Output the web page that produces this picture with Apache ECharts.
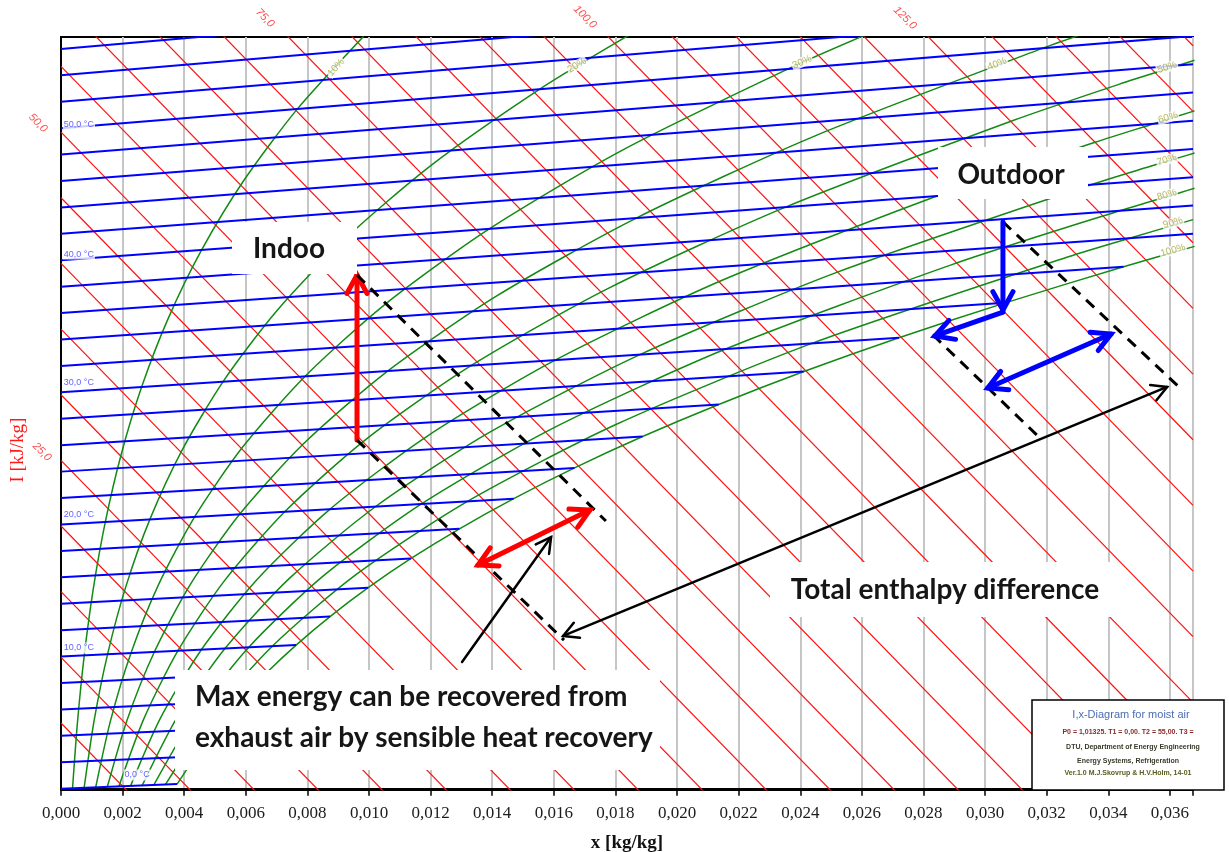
<!DOCTYPE html>
<html>
<head>
<meta charset="utf-8">
<script src="https://cdn.jsdelivr.net/npm/echarts/dist/echarts.min.js"></script>
<style>
  html, body { margin: 0; padding: 0; background: #ffffff; }
  #chart { width: 1229px; height: 852px; }
</style>
</head>
<body>
<div id="chart"></div>
<script>
// ---------------------------------------------------------------------------
// i,x (Mollier) diagram for moist air.
// Abscissa: humidity ratio x [kg/kg].  Ordinate: skewed enthalpy scale,
// expressed so that the value at x = 0 equals the air temperature in °C.
// ---------------------------------------------------------------------------
const X_MAX = 0.03675;
const Y_MIN = -0.1;
const Y_MAX = 56.9;

// Isotherms every 2 °C: start at (0, t), end on the saturation line or the frame
const isothermTemps = [0, 2, 4, 6, 8, 10, 12, 14, 16, 18, 20, 22, 24, 26, 28,
  30, 32, 34, 36, 38, 40, 42, 44, 46, 48, 50, 52, 54, 56];
const isothermEnds = [
  [0.003774, 0.359], [0.004364, 2.431], [0.005031, 4.516], [0.005793, 6.616],
  [0.006657, 8.734], [0.007631, 10.870], [0.008733, 13.029], [0.009973, 15.213],
  [0.011364, 17.425], [0.012934, 19.671], [0.014698, 21.955], [0.016672, 24.281],
  [0.018880, 26.655], [0.021353, 29.083], [0.024116, 31.574], [0.027205, 34.135],
  [0.030654, 36.776], [0.034495, 39.505],
  [0.03675, 42.005], [0.03675, 44.145], [0.03675, 46.284], [0.03675, 48.424],
  [0.03675, 50.564], [0.03675, 52.703], [0.03675, 54.843], [0.03675, 56.983],
  [0.03675, 59.12], [0.03675, 61.262], [0.03675, 63.401]
];

// Isenthalps every 5 kJ/kg: ordinate at x = 0 and common drop across the width
const isenthalpValues = [5, 10, 15, 20, 25, 30, 35, 40, 45, 50, 55, 60, 65, 70, 75,
  80, 85, 90, 95, 100, 105, 110, 115, 120, 125, 130, 135, 140, 145];
const isenthalpAtLeft = [4.970, 9.940, 14.911, 19.881, 24.851, 29.821, 34.791,
  39.761, 44.732, 49.702, 54.672, 59.642, 64.612, 69.583, 74.553, 79.523, 84.493,
  89.463, 94.433, 99.404, 104.374, 109.344, 114.314, 119.284, 124.254, 129.225,
  134.195, 139.165, 144.135];
const isenthalpDrop = 87.9;

// Relative humidity curves [x, ordinate]
const rh10 = [[0.000375, 0.036], [0.000536, 5.056], [0.000755, 10.086], [0.001048, 15.129],
  [0.001439, 20.191], [0.001951, 25.278], [0.002617, 30.398], [0.003474, 35.561],
  [0.004566, 40.781], [0.005945, 46.073], [0.007675, 51.458], [0.009827, 56.961]];
const rh20 = [[0.000751, 0.071], [0.001072, 5.112], [0.001511, 10.172], [0.002100, 15.259],
  [0.002885, 20.384], [0.003915, 25.558], [0.005257, 30.799], [0.006987, 36.128],
  [0.009200, 41.573], [0.012005, 47.167], [0.015542, 52.953], [0.018067, 56.536],
  [0.018991, 57.753]];
const rh30 = [[0.001127, 0.107], [0.001610, 5.168], [0.002270, 10.259], [0.003156, 15.390],
  [0.004338, 20.577], [0.005891, 25.839], [0.007919, 31.204], [0.010540, 36.702],
  [0.013902, 42.377], [0.018183, 48.282], [0.023607, 54.485], [0.026116, 57.061]];
const rh40 = [[0.001504, 0.143], [0.002149, 5.225], [0.003030, 10.345], [0.004215, 15.521],
  [0.005797, 20.771], [0.007880, 26.123], [0.010604, 31.612], [0.014133, 37.283],
  [0.018676, 43.194], [0.024483, 49.419], [0.031879, 56.057], [0.033566, 57.441]];
const rh50 = [[0.001881, 0.179], [0.002688, 5.281], [0.003792, 10.432], [0.005278, 15.652],
  [0.007263, 20.966], [0.009881, 26.408], [0.013311, 32.023], [0.017768, 37.870],
  [0.023521, 44.022], [0.030907, 50.579], [0.034365, 53.333], [0.036285, 54.756],
  [0.0368, 55.14]];
const rh60 = [[0.002259, 0.215], [0.003228, 5.337], [0.004556, 10.519], [0.006344, 15.783],
  [0.008736, 21.162], [0.011895, 26.695], [0.016042, 32.438], [0.021444, 38.463],
  [0.028440, 44.863], [0.033576, 48.933], [0.035476, 50.336], [0.0368, 51.31]];
const rh70 = [[0.002637, 0.251], [0.003770, 5.394], [0.005322, 10.607], [0.007414, 15.916],
  [0.010216, 21.359], [0.013922, 26.984], [0.018797, 32.857], [0.025162, 39.064],
  [0.033435, 45.717], [0.035369, 47.115], [0.036383, 47.825], [0.0368, 48.12]];
const rh80 = [[0.003015, 0.286], [0.004312, 5.451], [0.006090, 10.694], [0.008487, 16.048],
  [0.011703, 21.556], [0.015962, 27.275], [0.021575, 33.279], [0.028924, 39.671],
  [0.034369, 43.747], [0.036377, 45.151], [0.0368, 45.45]];
const rh90 = [[0.003394, 0.322], [0.004855, 5.507], [0.006859, 10.782], [0.009565, 16.181],
  [0.013197, 21.755], [0.018015, 27.567], [0.024378, 33.705], [0.032730, 40.286],
  [0.034688, 41.668], [0.036752, 43.075]];
const rh100 = [[0.003774, 0.359], [0.004364, 2.431], [0.005031, 4.516], [0.005793, 6.616],
  [0.006657, 8.734], [0.007631, 10.870], [0.008733, 13.029], [0.009973, 15.213],
  [0.011364, 17.425], [0.012934, 19.671], [0.014698, 21.955], [0.016672, 24.281],
  [0.018880, 26.655], [0.021353, 29.083], [0.024116, 31.574], [0.027205, 34.135],
  [0.030654, 36.776], [0.034495, 39.505], [0.0368, 41.05]];
const rhCurves = [rh10, rh20, rh30, rh40, rh50, rh60, rh70, rh80, rh90, rh100];

// Curve labels
const rhLabels = ['10%', '20%', '30%', '40%', '50%', '60%', '70%', '80%', '90%', '100%'];
const rhLabelPos = [[0.00893, 54.6], [0.01675, 54.75], [0.02406, 55.0], [0.03039, 54.85],
  [0.03591, 54.6], [0.03594, 50.8], [0.0359, 47.6], [0.0359, 44.95], [0.0361, 42.85],
  [0.0361, 40.75]];
const rhLabelAngle = [48, 31, 24, 21, 18, 17, 17, 16, 16, 16];

const isothermLabels = ['0,0 °C', '10,0 °C', '20,0 °C', '30,0 °C', '40,0 °C', '50,0 °C'];
const isothermLabelPos = [[0.00247, 1.04], [0.00058, 10.65], [0.00058, 20.72],
  [0.00058, 30.71], [0.00058, 40.47], [0.00058, 50.31]];

const isenthalpLabels = ['25,0', '50,0', '75,0', '100,0', '125,0'];
const isenthalpLabelPos = [[-0.00062, 25.49], [-0.00075, 50.39], [0.00662, 58.34],
  [0.01701, 58.41], [0.0274, 58.34]];

// States and process arrows
const indoorPoint = [0.00961, 26.39];
const indoorTop = [0.00961, 38.88];
const indoorDashEnd = [0.01769, 20.26];
const indoorLowDashEnd = [0.01633, 11.25];
const sensibleA = [0.01354, 16.93];
const sensibleB = [0.01717, 21.10];
const noteArrowFrom = [0.01302, 9.59];
const noteArrowTo = [0.01591, 19.05];
const totalA = [0.0163, 11.56];
const totalB = [0.03591, 30.41];
const outdoorPoint = [0.03058, 42.90];
const outdoorDashEnd = [0.03633, 30.33];
const outdoorLowDashStart = [0.02831, 34.34];
const outdoorLowDashEnd = [0.03185, 26.39];
const outdoorDropTip = [0.03058, 36.23];
const outdoorCornerStart = [0.03058, 36.08];
const outdoorCornerTip = [0.02837, 34.27];
const exchangeA = [0.03009, 30.33];
const exchangeB = [0.03409, 34.42];

const annotations = [
  { a: indoorPoint, b: indoorTop, kind: 'red', heads: [false, true] },
  { a: indoorTop, b: indoorDashEnd, kind: 'dash', heads: [false, false] },
  { a: indoorPoint, b: indoorLowDashEnd, kind: 'dash', heads: [false, false] },
  { a: sensibleA, b: sensibleB, kind: 'red', heads: [true, true] },
  { a: noteArrowFrom, b: noteArrowTo, kind: 'black', heads: [false, true] },
  { a: totalA, b: totalB, kind: 'black', heads: [true, true] },
  { a: outdoorPoint, b: outdoorDashEnd, kind: 'dash', heads: [false, false] },
  { a: outdoorLowDashStart, b: outdoorLowDashEnd, kind: 'dash', heads: [false, false] },
  { a: outdoorPoint, b: outdoorDropTip, kind: 'blue', heads: [false, true] },
  { a: outdoorCornerStart, b: outdoorCornerTip, kind: 'blue', heads: [false, true] },
  { a: exchangeA, b: exchangeB, kind: 'blue', heads: [true, true] }
];

const annotationStyle = {
  red:   { color: '#ff0000', width: 5,   head: 21, dash: null },
  blue:  { color: '#0000ff', width: 5,   head: 21, dash: null },
  black: { color: '#000000', width: 2.5, head: 17, dash: null },
  dash:  { color: '#000000', width: 3,   head: 0,  dash: [11, 8] }
};

// ---------------------------------------------------------------------------
const series = [];

isenthalpValues.forEach(function (h, i) {
  series.push({
    type: 'line', name: 'i=' + h, z: 2, silent: true, showSymbol: false,
    data: [[0, isenthalpAtLeft[i]], [X_MAX, isenthalpAtLeft[i] - isenthalpDrop]],
    lineStyle: { color: '#ff1010', width: 1.2 }
  });
});

rhCurves.forEach(function (c, i) {
  series.push({
    type: 'line', name: rhLabels[i], z: 3, silent: true, showSymbol: false,
    smooth: 0.25,
    data: c,
    lineStyle: { color: '#138a13', width: 1.5 }
  });
});

isothermTemps.forEach(function (t, i) {
  series.push({
    type: 'line', name: t + ' °C', z: 4, silent: true, showSymbol: false,
    data: [[0, t], isothermEnds[i]],
    lineStyle: { color: '#0000ff', width: 2 }
  });
});

// Curve and line labels
series.push({
  type: 'scatter', z: 20, silent: true, symbolSize: 1,
  itemStyle: { color: 'rgba(0,0,0,0)' },
  data: rhLabelPos.map(function (p, i) {
    return { value: p, label: { formatter: rhLabels[i], rotate: rhLabelAngle[i] } };
  }),
  label: {
    show: true, position: 'inside', color: '#a4a43c', fontSize: 10,
    fontFamily: 'Liberation Sans', backgroundColor: '#ffffff', padding: [0, 1]
  }
});
series.push({
  type: 'scatter', z: 20, silent: true, symbolSize: 1,
  itemStyle: { color: 'rgba(0,0,0,0)' },
  data: isothermLabelPos.map(function (p, i) {
    return { value: p, label: { formatter: isothermLabels[i] } };
  }),
  label: {
    show: true, position: 'inside', color: '#3a3aff', fontSize: 9,
    fontFamily: 'Liberation Sans', backgroundColor: '#ffffff', padding: [1, 1]
  }
});
series.push({
  type: 'scatter', z: 20, silent: true, symbolSize: 1, clip: false,
  itemStyle: { color: 'rgba(0,0,0,0)' },
  data: isenthalpLabelPos.map(function (p, i) {
    return { value: p, label: { formatter: isenthalpLabels[i] } };
  }),
  label: {
    show: true, position: 'inside', color: '#ff2020', fontSize: 11, rotate: -45,
    fontStyle: 'italic', fontFamily: 'Liberation Sans'
  }
});

// Process arrows and construction lines
function arrowHead(tip, from, len, st) {
  const ang = Math.atan2(from[1] - tip[1], from[0] - tip[0]);
  const spread = 0.5;
  return {
    type: 'polyline',
    shape: { points: [
      [tip[0] + len * Math.cos(ang + spread), tip[1] + len * Math.sin(ang + spread)],
      [tip[0], tip[1]],
      [tip[0] + len * Math.cos(ang - spread), tip[1] + len * Math.sin(ang - spread)]
    ] },
    style: { stroke: st.color, lineWidth: st.width, fill: null, lineJoin: 'miter', lineCap: 'round' }
  };
}

series.push({
  type: 'custom', z: 30, silent: true, clip: false,
  data: annotations.map(function (s) { return [s.a[0], s.a[1], s.b[0], s.b[1]]; }),
  renderItem: function (params, api) {
    const s = annotations[params.dataIndex];
    const st = annotationStyle[s.kind];
    const p1 = api.coord([api.value(0), api.value(1)]);
    const p2 = api.coord([api.value(2), api.value(3)]);
    const children = [{
      type: 'line',
      shape: { x1: p1[0], y1: p1[1], x2: p2[0], y2: p2[1] },
      style: { stroke: st.color, lineWidth: st.width, lineDash: st.dash || null, lineCap: st.dash ? 'butt' : 'round' }
    }];
    if (s.heads[0]) children.push(arrowHead(p1, p2, st.head, st));
    if (s.heads[1]) children.push(arrowHead(p2, p1, st.head, st));
    return { type: 'group', children: children };
  }
});

function tickText(v) {
  const k = v / 0.002;
  if (Math.abs(k - Math.round(k)) > 1e-6) return '';
  return v.toFixed(3).replace('.', ',');
}

const noteFont = 'bold 28px Lato';
const whiteBox = function (x, y, w, h) {
  return { type: 'rect', z: 40, silent: true, shape: { x: x, y: y, width: w, height: h },
    style: { fill: '#ffffff', stroke: null } };
};
const note = function (text, x, y, align) {
  return { type: 'text', z: 41, silent: true, x: x, y: y,
    style: { text: text, font: noteFont, fill: '#161616',
      textAlign: align || 'center', textVerticalAlign: 'middle',
      align: align || 'center', verticalAlign: 'middle' } };
};
const small = function (text, x, y, font, color) {
  return { type: 'text', z: 46, silent: true, x: x, y: y,
    style: { text: text, font: font, fill: color,
      textAlign: 'center', textVerticalAlign: 'middle', align: 'center', verticalAlign: 'middle' } };
};

const option = {
  animation: false,
  backgroundColor: '#ffffff',
  grid: {
    left: 61, right: 36, top: 37, bottom: 62, show: true,
    borderColor: '#000000', borderWidth: 2, backgroundColor: '#ffffff',
    containLabel: false, outerBoundsMode: 'none'
  },
  xAxis: {
    type: 'value', min: 0, max: X_MAX, interval: 0.002,
    axisLine: { lineStyle: { color: '#000000', width: 2 } },
    axisTick: { length: 7, lineStyle: { color: '#000000', width: 1.5 } },
    axisLabel: { formatter: tickText, margin: 15, fontFamily: 'Liberation Serif',
      fontSize: 17, color: '#1c1c1c', showMaxLabel: true },
    splitLine: { show: true, lineStyle: { color: '#c6c6c6', width: 2 } },
    name: 'x [kg/kg]', nameLocation: 'middle', nameGap: 44, nameMoveOverlap: false,
    nameTextStyle: { fontFamily: 'Liberation Serif', fontSize: 19, fontWeight: 'bold', color: '#111111' }
  },
  yAxis: {
    type: 'value', min: Y_MIN, max: Y_MAX,
    axisLine: { show: true, lineStyle: { color: '#000000', width: 2 } },
    axisTick: { show: false }, axisLabel: { show: false }, splitLine: { show: false }
  },
  series: series,
  graphic: [
    whiteBox(232, 222, 125, 52),
    note('Indoo', 289, 249),
    whiteBox(938, 147, 150, 52),
    note('Outdoor', 1011, 175),
    whiteBox(770, 562, 348, 55),
    note('Total enthalpy difference', 945, 590),
    whiteBox(175, 670, 485, 100),
    note('Max energy can be recovered from', 195, 697, 'left'),
    note('exhaust air by sensible heat recovery', 195, 738, 'left'),
    { type: 'rect', z: 44, silent: true, shape: { x: 1032, y: 700, width: 192, height: 90 },
      style: { fill: '#ffffff', stroke: '#000000', lineWidth: 1.5 } },
    small('I,x-Diagram for moist air', 1131, 715, '11px "Liberation Sans"', '#4b6db0'),
    small('P0 = 1,01325. T1 = 0,00. T2 = 55,00. T3 =', 1128, 732, 'bold 7px "Liberation Sans"', '#8a2a2a'),
    small('DTU, Department of Energy Engineering', 1133, 747, 'bold 7px "Liberation Sans"', '#3a3a2a'),
    small('Energy Systems, Refrigeration', 1128, 761, 'bold 7px "Liberation Sans"', '#3a3a2a'),
    small('Ver.1.0 M.J.Skovrup & H.V.Holm, 14-01', 1128, 773, 'bold 7px "Liberation Sans"', '#5a5a20'),
    { type: 'text', z: 46, silent: true, x: 18, y: 450, rotation: Math.PI / 2,
      style: { text: 'I [kJ/kg]', font: '19px "Liberation Serif"', fill: '#ff1a1a',
        textAlign: 'center', textVerticalAlign: 'middle', align: 'center', verticalAlign: 'middle' } }
  ]
};

const chart = echarts.init(document.getElementById('chart'), null, { renderer: 'canvas' });
chart.setOption(option);
</script>
</body>
</html>
